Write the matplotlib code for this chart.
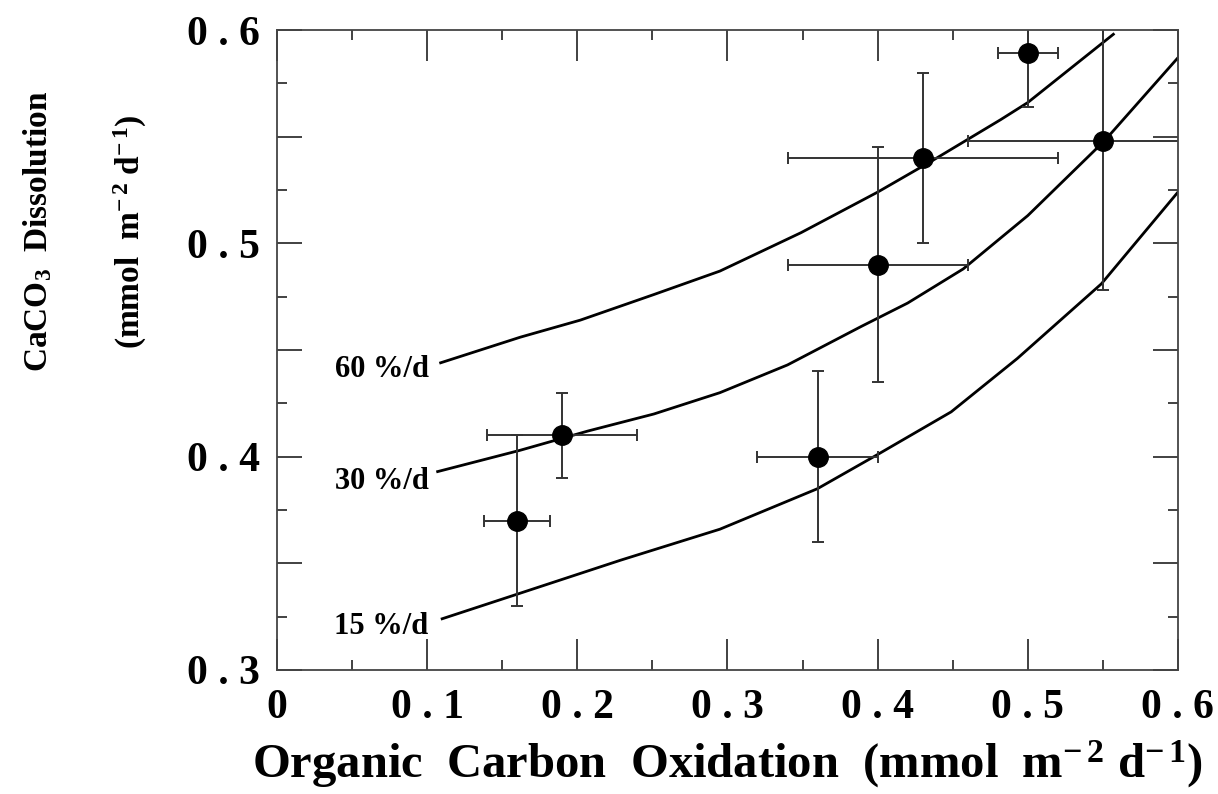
import matplotlib
matplotlib.use("Agg")
from matplotlib import pyplot as plt
from matplotlib.ticker import FixedLocator, FixedFormatter

# observed points with error bars
x_obs = [0.16, 0.19, 0.36, 0.40, 0.43, 0.50, 0.55]
y_obs = [0.37, 0.41, 0.40, 0.49, 0.54, 0.589, 0.548]
x_err = [0.022, 0.05, 0.04, 0.06, 0.09, 0.02, 0.09]
y_err = [0.04, 0.02, 0.04, 0.055, 0.04, 0.025, 0.07]

# model curves
x_60 = [0.109, 0.162, 0.202, 0.251, 0.295, 0.349, 0.40, 0.437, 0.482, 0.50, 0.557]
y_60 = [0.444, 0.456, 0.464, 0.476, 0.487, 0.505, 0.524, 0.539, 0.558, 0.566, 0.598]
x_30 = [0.107, 0.162, 0.207, 0.251, 0.295, 0.34, 0.389, 0.42, 0.457, 0.50, 0.551, 0.60]
y_30 = [0.393, 0.403, 0.412, 0.420, 0.430, 0.443, 0.461, 0.472, 0.488, 0.513, 0.548, 0.587]
x_15 = [0.11, 0.162, 0.229, 0.295, 0.36, 0.40, 0.449, 0.493, 0.549, 0.60]
y_15 = [0.324, 0.336, 0.3515, 0.366, 0.385, 0.401, 0.421, 0.446, 0.481, 0.524]

curve_labels = ["60 %/d", "30 %/d", "15 %/d"]
label_y = [0.4373, 0.385, 0.317]

x_ticks = [0, 0.1, 0.2, 0.3, 0.4, 0.5, 0.6]
x_tick_labels = ["0", "0 . 1", "0 . 2", "0 . 3", "0 . 4", "0 . 5", "0 . 6"]
y_ticks = [0.30, 0.35, 0.40, 0.45, 0.50, 0.55, 0.60]
y_tick_labels = ["0 . 3", "", "0 . 4", "", "0 . 5", "", "0 . 6"]

plt.rcParams["font.family"] = ["Liberation Serif", "DejaVu Serif"]
plt.rcParams["font.weight"] = "bold"
plt.rcParams["mathtext.fontset"] = "custom"
plt.rcParams["mathtext.rm"] = "Liberation Serif:bold"
plt.rcParams["mathtext.it"] = "Liberation Serif:bold"
plt.rcParams["mathtext.bf"] = "Liberation Serif:bold"
plt.rcParams["mathtext.default"] = "rm"

fig = plt.figure(figsize=(12.18, 7.94), dpi=100)
ax = fig.add_axes([0.2274, 0.1562, 0.7397, 0.806])

for xs, ys in [(x_60, y_60), (x_30, y_30), (x_15, y_15)]:
    ax.plot(xs, ys, color="black", lw=2.0, solid_joinstyle="round")

ax.errorbar(x_obs, y_obs, xerr=x_err, yerr=y_err, fmt="o", color="black",
            ms=14, ecolor="#333333", elinewidth=1.4, capsize=4, capthick=1.4)

for txt, yy in zip(curve_labels, label_y):
    ax.text(0.101, yy, txt, ha="right", va="baseline", fontsize=22,
            fontweight="bold")

ax.set_xlim(0, 0.6)
ax.set_ylim(0.3, 0.6)

ax.xaxis.set_major_locator(FixedLocator(x_ticks))
ax.xaxis.set_major_formatter(FixedFormatter(x_tick_labels))
ax.xaxis.set_minor_locator(FixedLocator([0.05, 0.15, 0.25, 0.35, 0.45, 0.55]))
ax.yaxis.set_major_locator(FixedLocator(y_ticks))
ax.yaxis.set_major_formatter(FixedFormatter(y_tick_labels))
ax.yaxis.set_minor_locator(FixedLocator([0.325, 0.375, 0.425, 0.475, 0.525, 0.575]))

ax.tick_params(which="both", direction="in", top=True, right=True,
               color="#333333", width=1.3)
ax.tick_params(axis="x", which="major", length=22, pad=14, labelsize=30)
ax.tick_params(axis="y", which="major", length=18, pad=12, labelsize=30)
ax.tick_params(which="minor", length=7)

for s in ax.spines.values():
    s.set_linewidth(1.3)
    s.set_color("#444444")

ax.set_xlabel(r"Organic  Carbon  Oxidation  (mmol  m$^{-\,2}$ d$^{-\,1}$)",
              fontsize=35, fontweight="bold", labelpad=8)

fig.text(0.031, 0.708, r"CaCO$_3$  Dissolution", rotation=90, ha="center",
         va="center", fontsize=24, fontweight="bold")
fig.text(0.107, 0.708, r"(mmol  m$^{-\,2}$ d$^{-\,1}$)", rotation=90,
         ha="center", va="center", fontsize=24, fontweight="bold")

plt.savefig("out.png", dpi=100)
